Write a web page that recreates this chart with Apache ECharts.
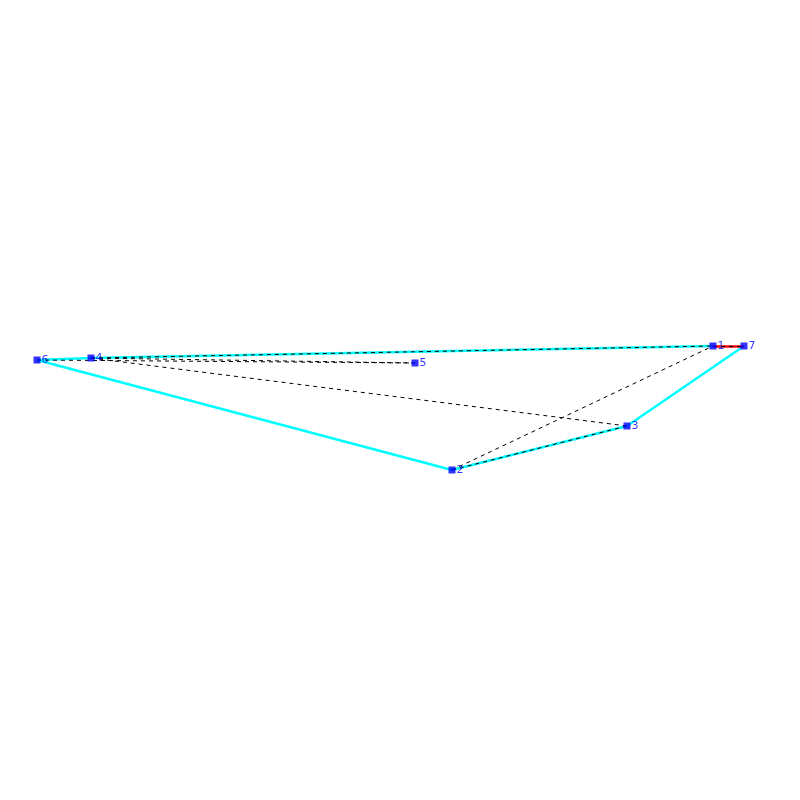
<!DOCTYPE html><html><head><meta charset="utf-8"><script src="https://cdn.jsdelivr.net/npm/echarts@6/dist/echarts.min.js"></script></head><body style="margin:0"><div id="c" style="width:800px;height:800px"></div><script>
const names=['1','2','3','4','5','6','7'];
const xs=[713,452,627,91,415,37,744];
const ys=[346,470,426,358,363,360,346];
const cyanEdges=[['6','4'],['4','1'],['6','2'],['2','3'],['3','7']];
const redEdges=[['1','7']];
const dashEdges=[['6','5'],['4','5'],['4','3'],['4','1'],['2','1'],['2','3'],['1','7']];
const idx=n=>names.indexOf(n);
const pt=n=>[xs[idx(n)],ys[idx(n)]];
const mk=(edges,style)=>({type:'lines',coordinateSystem:'cartesian2d',polyline:false,silent:true,lineStyle:style,data:edges.map(e=>({coords:[pt(e[0]),pt(e[1])]}))});
const chart=echarts.init(document.getElementById('c'));
chart.setOption({animation:false,
grid:{left:0,right:0,top:0,bottom:0},
xAxis:{type:'value',min:0,max:800,show:false},
yAxis:{type:'value',min:0,max:800,inverse:true,show:false},
series:[
mk(cyanEdges,{color:'#00ffff',width:2.5,opacity:1}),
mk(redEdges,{color:'#ff0000',width:2.5,opacity:1}),
mk(dashEdges,{color:'#000',width:1,type:[4,4],opacity:1}),
{type:'scatter',symbol:'rect',symbolSize:7,itemStyle:{color:'#0000ff'},
data:names.map((n,i)=>[xs[i],ys[i],n]),
label:{show:true,position:'right',distance:1,formatter:p=>p.value[2],color:'#0000ff',fontSize:11,fontFamily:'DejaVu Sans'}}
]});
</script></body></html>
